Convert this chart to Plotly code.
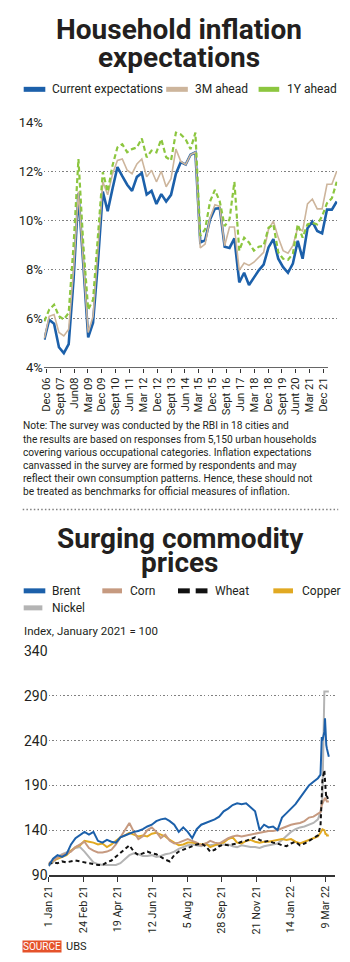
import plotly.graph_objects as go
import pandas as pd

# ---------------- Chart 1 data: household inflation expectations (%) ----------------
h_tick_labels = ["Dec 06", "Sept 07", "Jun08", "Mar 09", "Dec 09", "Sept 10", "Jun 11",
                 "Mar 12", "Dec 12", "Sept 13", "Jun 14", "Mar 15", "Dec 15", "Sept 16",
                 "Jun 17", "Mar 18", "Dec 18", "Sept 19", "Junt 20", "Mar 21", "Dec 21"]

current_exp = [5.15, 5.96, 5.8, 4.84, 4.6, 4.97, 7.6, 11.1, 8.2, 5.24, 5.84, 8.3, 11.17, 10.37,
               11.3, 12.17, 11.8, 11.45, 11.2, 11.77, 11.93, 11.05, 11.2, 10.67, 11.07, 10.77,
               11.04, 11.9, 12.37, 12.27, 12.67, 12.77, 9.1, 9.2, 10.04, 10.48, 10.5, 8.93,
               8.88, 9.27, 7.48, 7.87, 7.37, 7.7, 7.97, 8.2, 8.9, 9.24, 8.44, 8.1, 7.87, 8.24,
               9.17, 8.44, 9.68, 9.95, 9.57, 9.47, 10.44, 10.44, 10.77]

ahead_3m = [5.2, 6.1, 6.17, 5.44, 5.3, 5.57, 8.0, 11.17, 8.3, 5.44, 6.1, 8.8, 11.57, 11.04,
            11.9, 12.44, 12.5, 12.04, 11.9, 12.3, 12.5, 11.77, 12.04, 11.57, 12.0, 11.37,
            11.7, 12.9, 12.4, 12.27, 12.67, 12.77, 8.88, 9.04, 10.1, 10.64, 10.57, 8.97,
            9.73, 9.73, 7.97, 8.27, 8.17, 8.3, 8.5, 8.7, 9.64, 9.97, 9.3, 8.77, 8.67, 8.97,
            9.7, 9.57, 10.67, 10.87, 10.47, 10.47, 11.47, 11.47, 12.0]

ahead_1y = [5.9, 6.37, 6.57, 6.1, 5.97, 6.24, 9.0, 12.5, 9.0, 6.37, 6.77, 9.5, 11.97, 11.17,
            12.24, 12.97, 13.1, 12.77, 12.9, 12.97, 13.33, 12.57, 12.84, 12.77, 13.3, 12.57,
            12.44, 13.57, 13.5, 13.3, 12.9, 13.57, 9.37, 9.64, 10.77, 11.24, 10.77, 9.77,
            10.04, 11.57, 8.77, 9.3, 9.1, 8.77, 8.93, 8.97, 9.7, 9.84, 8.7, 8.44, 8.4, 8.64,
            9.84, 9.3, 9.84, 9.9, 9.84, 10.17, 10.7, 10.9, 11.57]

h_y_ticks = [4, 6, 8, 10, 12, 14]

# ---------------- Chart 2 data: commodity indices (Jan 2021 = 100) ----------------
weekly_dates = list(pd.date_range("2021-01-01", periods=61, freq="7D"))
march_dates = list(pd.to_datetime(["2022-03-01", "2022-03-03", "2022-03-04", "2022-03-07",
                                   "2022-03-08", "2022-03-09", "2022-03-10", "2022-03-11",
                                   "2022-03-14"]))
c_dates = weekly_dates + march_dates

brent = [100, 108, 112, 110, 113, 124, 131, 135, 138, 135, 138, 128, 126, 129, 127, 126, 132,
         134, 136, 138, 139, 141, 144, 146, 150, 152, 153, 150, 146, 138, 143, 138, 131, 141,
         146, 148, 150, 152, 155, 161, 164, 168, 170, 169, 170, 165, 161, 140, 146, 143, 144,
         140, 154, 159, 164, 169, 176, 183, 190, 194, 198,
         202, 244, 240, 250, 265, 236, 235, 231, 222]

corn = [103, 106, 109, 112, 114, 116, 121, 124, 127, 120, 117, 115, 115, 116, 118, 124, 132,
        140, 148, 138, 130, 133, 140, 143, 138, 131, 135, 128, 125, 126, 128, 130, 128, 126,
        123, 125, 128, 126, 125, 128, 131, 133, 134, 133, 134, 135, 136, 137, 138, 139, 139,
        140, 142, 144, 146, 147, 148, 150, 154, 155, 158,
        160, 168, 170, 174, 176, 175, 173, 172, 172]

wheat = [102, 104, 103, 105, 104, 105, 106, 105, 104, 103, 102, 101, 101, 104, 106, 110, 115,
         119, 123, 116, 112, 114, 116, 114, 113, 110, 107, 105, 112, 116, 118, 120, 122, 124,
         125, 122, 116, 118, 122, 124, 123, 124, 125, 127, 128, 130, 132, 129, 127, 128, 126,
         125, 123, 122, 125, 127, 123, 125, 128, 131, 134,
         145, 180, 195, 207, 200, 185, 176, 178, 172]

copper = [101, 106, 108, 110, 112, 117, 121, 123, 128, 127, 126, 124, 125, 121, 124, 128, 132,
          134, 137, 135, 133, 134, 133, 136, 137, 135, 133, 129, 126, 123, 124, 126, 126, 125,
          124, 125, 121, 123, 125, 126, 130, 132, 126, 125, 128, 129, 127, 126, 127, 127, 128,
          129, 130, 129, 130, 127, 125, 127, 129, 131, 133,
          137, 140, 141, 140, 138, 135, 136, 134, 134]

nickel = [100, 104, 110, 113, 115, 117, 120, 121, 116, 110, 104, 102, 101, 101, 101, 101, 103,
          108, 112, 114, 113, 111, 111, 112, 110, 111, 113, 114, 116, 119, 121, 123, 124, 123,
          122, 124, 123, 124, 123, 124, 124, 122, 121, 123, 122, 121, 121, 120, 122, 123, 124,
          125, 129, 134, 138, 141, 143, 144, 146, 148, 152,
          160, 170, 178, 295, 295, 295, 295, 295, 295]

c_tick_dates = ["2021-01-01", "2021-02-24", "2021-04-19", "2021-06-12", "2021-08-05",
                "2021-09-28", "2021-11-21", "2022-01-14", "2022-03-09"]
c_tick_labels = ["1 Jan 21", "24 Feb 21", "19 Apr 21", "12 Jun 21", "5 Aug 21", "28 Sep 21",
                 "21 Nov 21", "14 Jan 22", "9 Mar 22"]
c_y_ticks = [90, 140, 190, 240, 290, 340]

# ---------------- styling ----------------
W, H = 350, 962
FONT = "Roboto"
TXT = "#231f20"
BLUE = "#1c60aa"
TAN = "#cdb59c"
GREEN = "#8cc63f"
CORN = "#c69a80"
COPPER = "#e1a922"
NICKEL = "#b4b4b4"
GRID = "#808080"
GRID_DASH = "1.5px,2.2px"
GRID_W = 1.4


def fx(x):
    return x / W


def fy(y):
    return 1 - y / H


fig = go.Figure()

idx = list(range(len(current_exp)))
fig.add_trace(go.Scatter(x=idx, y=current_exp, mode="lines", line=dict(color=BLUE, width=2.6),
                         xaxis="x", yaxis="y", showlegend=False))
fig.add_trace(go.Scatter(x=idx, y=ahead_3m, mode="lines", line=dict(color=TAN, width=1.6),
                         xaxis="x", yaxis="y", showlegend=False))
fig.add_trace(go.Scatter(x=idx, y=ahead_1y, mode="lines",
                         line=dict(color=GREEN, width=2.2, dash="5px,3px"),
                         xaxis="x", yaxis="y", showlegend=False))

for series, color, dash in [(nickel, NICKEL, None), (copper, COPPER, None), (corn, CORN, None),
                            (wheat, "#111111", "4px,3px"), (brent, BLUE, None)]:
    fig.add_trace(go.Scatter(x=c_dates, y=series, mode="lines",
                             line=dict(color=color, width=2, dash=dash),
                             xaxis="x2", yaxis="y2", showlegend=False))

h_tickvals = [0.4 + 2.845 * k for k in range(len(h_tick_labels))]

fig.update_layout(
    width=W, height=H, margin=dict(l=0, r=0, t=0, b=0),
    paper_bgcolor="white", plot_bgcolor="white",
    xaxis=dict(domain=[fx(38.5), fx(337)], range=[-0.1, 60.1], tickvals=h_tickvals,
               ticktext=h_tick_labels, tickangle=-90, ticks="outside", ticklen=4,
               tickcolor="#333", tickwidth=1.3, showgrid=False, zeroline=False,
               showline=False, tickfont=dict(family=FONT, size=11.2, color=TXT),
               anchor="y", fixedrange=True),
    yaxis=dict(domain=[fy(366), fy(116)], range=[4, 14], tickvals=h_y_ticks,
               ticktext=[f"{v}%" for v in h_y_ticks], showgrid=True, gridcolor=GRID,
               griddash=GRID_DASH, gridwidth=GRID_W, zeroline=False, showline=False,
               ticks="", tickfont=dict(family=FONT, size=13, color=TXT), anchor="x",
               fixedrange=True),
    xaxis2=dict(domain=[fx(43.3), fx(335)], type="date", range=["2021-01-01", "2022-03-24"],
                tickvals=c_tick_dates, ticktext=c_tick_labels, tickangle=-90, ticks="outside",
                ticklen=5, tickcolor="#333", tickwidth=1.3, showgrid=False, zeroline=False,
                showline=True, linecolor="#333", linewidth=1.5,
                tickfont=dict(family=FONT, size=10.8, color=TXT), anchor="y2",
                fixedrange=True),
    yaxis2=dict(domain=[fy(881.5), fy(654)], range=[90, 340], tickvals=c_y_ticks,
                ticktext=[str(v) for v in c_y_ticks],
                showgrid=True, gridcolor=GRID, griddash=GRID_DASH, gridwidth=GRID_W,
                zeroline=False, showline=False, ticks="",
                tickfont=dict(family=FONT, size=14, color=TXT), anchor="x2", fixedrange=True),
)

shapes = []
# chart 1 x-axis line (ends just past the last tick)
shapes.append(dict(type="line", xref="x", yref="y", x0=-0.1, x1=h_tickvals[-1] + 0.9,
                   y0=4, y1=4, line=dict(color="#333", width=1.5)))
# separator
shapes.append(dict(type="line", xref="paper", yref="paper", x0=fx(17), x1=fx(338),
                   y0=fy(510), y1=fy(510),
                   line=dict(color=GRID, width=GRID_W, dash=GRID_DASH)))


def swatch(x0, x1, y, color, width=5, dash=None):
    shapes.append(dict(type="line", xref="paper", yref="paper", x0=fx(x0), x1=fx(x1),
                       y0=fy(y), y1=fy(y), line=dict(color=color, width=width, dash=dash)))


ann = []


def text(x, y, s, size, color=TXT, xanchor="left", **kw):
    ann.append(dict(xref="paper", yref="paper", x=fx(x), y=fy(y), text=s, showarrow=False,
                    xanchor=xanchor, yanchor="middle",
                    font=dict(family=FONT, size=size, color=color), **kw))


# titles
text(176, 22, "<b>Household inflation</b>", 28, xanchor="center")
text(176, 50, "<b>expectations</b>", 28, xanchor="center")
text(177.5, 539.5, "<b>Surging commodity</b>", 28, xanchor="center")
text(177.5, 563.5, "<b>prices</b>", 28, xanchor="center")

# legend 1
swatch(18, 40, 82.7, BLUE)
text(45, 82.7, "Current expectations", 12)
swatch(163, 185, 82.7, TAN)
text(190, 82.7, "3M ahead", 12)
swatch(257, 278, 82.7, GREEN)
text(283.5, 82.7, "1Y ahead", 12)

# note
note_lines = [
    "Note: The survey was conducted by the RBI in 18 cities and",
    "the results are based on responses from 5,150 urban households",
    "covering various occupational categories. Inflation expectations",
    "canvassed in the survey are formed by respondents and may",
    "reflect their own consumption patterns. Hence, these should not",
    "be treated as benchmarks for official measures of inflation.",
]
for i, line in enumerate(note_lines):
    text(15.5, 425 + 13.4 * i, line, 10.2)

# legend 2
swatch(18, 40, 592.7, BLUE)
text(44.5, 592.7, "Brent", 12)
swatch(98, 118, 592.7, CORN)
text(124, 592.7, "Corn", 12)
swatch(175, 187, 592.7, "#111111")
swatch(193, 205, 592.7, "#111111")
text(211, 592.7, "Wheat", 12)
swatch(272, 292, 592.7, COPPER)
text(299, 592.7, "Copper", 12)
swatch(18, 37, 610, NICKEL)
text(45, 610, "Nickel", 12)

text(16, 634, "Index, January 2021 = 100", 11.5)

# source
text(16, 954, "SOURCE", 10, color="white", bgcolor="#e5522b", borderpad=0)
text(59, 954, "UBS", 11)

fig.update_layout(shapes=shapes, annotations=ann)
fig.write_html("out.html")
